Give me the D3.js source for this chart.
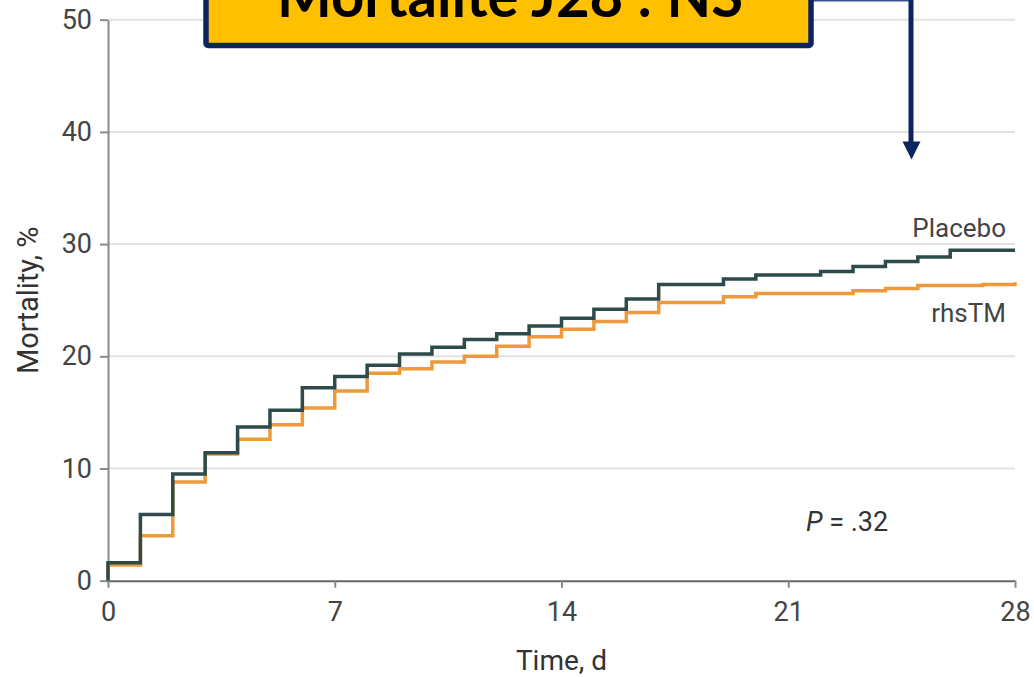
<!DOCTYPE html>
<html>
<head>
<meta charset="utf-8">
<script src="https://cdn.jsdelivr.net/npm/d3@7"></script>
<style>
  html, body { margin: 0; padding: 0; background: #fff; overflow: hidden; }
  svg { display: block; }
  text { font-family: Roboto, "Liberation Sans", sans-serif; }
</style>
</head>
<body>
<div id="chart"></div>
<script>
// days (start of each step) and cumulative mortality, %
var days = d3.range(0, 28);
var placebo = [1.6, 5.9, 9.5, 11.4, 13.7, 15.2, 17.2, 18.2, 19.2, 20.2, 20.8, 21.5, 22.0, 22.7,
  23.4, 24.2, 25.1, 26.4, 26.4, 26.9, 27.25, 27.25, 27.55, 28.0, 28.45, 28.85, 29.45, 29.45];
var rhsTM = [1.4, 4.0, 8.8, 11.3, 12.6, 13.9, 15.4, 16.9, 18.5, 18.9, 19.5, 20.0, 20.9, 21.75,
  22.4, 23.1, 23.9, 24.8, 24.8, 25.3, 25.6, 25.6, 25.6, 25.85, 26.05, 26.3, 26.3, 26.4];
var rhsTMEnd = 26.6;
var xTicks = [0, 7, 14, 21, 28];
var yTicks = [0, 10, 20, 30, 40, 50];
var title = "Mortalité J28 : NS";

var width = 1034, height = 677;
var svg = d3.select("#chart").append("svg").attr("width", width).attr("height", height);

var x = d3.scaleLinear().domain([0, 28]).range([108, 1015]);
var y = d3.scaleLinear().domain([0, 50]).range([580.7, 19.7]);

// gridlines
svg.append("g").selectAll("line").data(yTicks.filter(function(d){ return d > 0; })).enter()
  .append("line")
  .attr("x1", x(0)).attr("x2", x(28))
  .attr("y1", function(d){ return y(d); }).attr("y2", function(d){ return y(d); })
  .attr("stroke", "#e2e2e2").attr("stroke-width", 2);

// y axis
var yAxis = svg.append("g").attr("transform", "translate(" + x(0) + ",0)")
  .call(d3.axisLeft(y).tickValues(yTicks).tickSize(8).tickPadding(8).tickSizeOuter(0));
yAxis.select(".domain").attr("stroke", "#8a8a8a").attr("stroke-width", 2);
yAxis.selectAll(".tick line").attr("stroke", "#8a8a8a").attr("stroke-width", 2);
yAxis.selectAll(".tick text").attr("font-size", 27).attr("fill", "#444")
  .style("font-family", "Roboto, sans-serif");

// x axis
var xAxis = svg.append("g").attr("transform", "translate(0," + y(0) + ")")
  .call(d3.axisBottom(x).tickValues(xTicks).tickSize(7).tickPadding(14).tickSizeOuter(0));
xAxis.select(".domain").attr("stroke", "#666").attr("stroke-width", 2);
xAxis.selectAll(".tick line").attr("stroke", "#888").attr("stroke-width", 2);
xAxis.selectAll(".tick text").attr("font-size", 27).attr("fill", "#444")
  .style("font-family", "Roboto, sans-serif");

// curves
var line = d3.line().x(function(d){ return x(d[0]); }).y(function(d){ return y(d[1]); })
  .curve(d3.curveStepAfter);

function pts(vals, endVal) {
  var p = [[0, 0]];
  days.forEach(function(d, i){ p.push([d, vals[i]]); });
  p.push([28, endVal]);
  return p;
}

svg.append("path").datum(pts(rhsTM, rhsTMEnd))
  .attr("d", line).attr("fill", "none")
  .attr("stroke", "#ec9a3c").attr("stroke-width", 3.5);

svg.append("path").datum(pts(placebo, placebo[placebo.length - 1]))
  .attr("d", line).attr("fill", "none")
  .attr("stroke", "#2d4b4a").attr("stroke-width", 3.5);

// labels
svg.append("text").attr("x", 1006).attr("y", 237).attr("text-anchor", "end")
  .attr("font-size", 26).attr("fill", "#444").text("Placebo");
svg.append("text").attr("x", 1006).attr("y", 322).attr("text-anchor", "end")
  .attr("font-size", 26).attr("fill", "#444").text("rhsTM");

var pv = svg.append("text").attr("x", 806).attr("y", 531).attr("font-size", 27).attr("fill", "#333");
pv.append("tspan").attr("font-style", "italic").text("P");
pv.append("tspan").text(" = .32");

svg.append("text").attr("x", x(14)).attr("y", 670).attr("text-anchor", "middle")
  .attr("font-size", 28).attr("fill", "#333").text("Time, d");

svg.append("text").attr("transform", "translate(38," + y(25) + ") rotate(-90)")
  .attr("text-anchor", "middle").attr("font-size", 29).attr("fill", "#333").text("Mortality, %");

// callout box + arrow
svg.append("line").attr("x1", 811).attr("x2", 911).attr("y1", 0.8).attr("y2", 0.8)
  .attr("stroke", "#3b5290").attr("stroke-width", 1.6);
svg.append("line").attr("x1", 911).attr("x2", 911).attr("y1", 0).attr("y2", 143)
  .attr("stroke", "#0c2461").attr("stroke-width", 5);
svg.append("path")
  .attr("d", "M902.5,141.5 L920.5,141.5 L911.5,159.5 Z")
  .attr("fill", "#0c2461");

svg.append("rect").attr("x", 206).attr("y", -20).attr("width", 605).attr("height", 65.5)
  .attr("rx", 2)
  .attr("fill", "#ffc000").attr("stroke", "#0c2461").attr("stroke-width", 5.5);

svg.append("text").attr("x", 277).attr("y", 17)
  .attr("textLength", 466).attr("lengthAdjust", "spacingAndGlyphs")
  .style("font-family", "Lato, 'Open Sans', sans-serif").attr("font-weight", "bold")
  .attr("font-size", 60).attr("fill", "#000").text(title);
</script>
</body>
</html>
